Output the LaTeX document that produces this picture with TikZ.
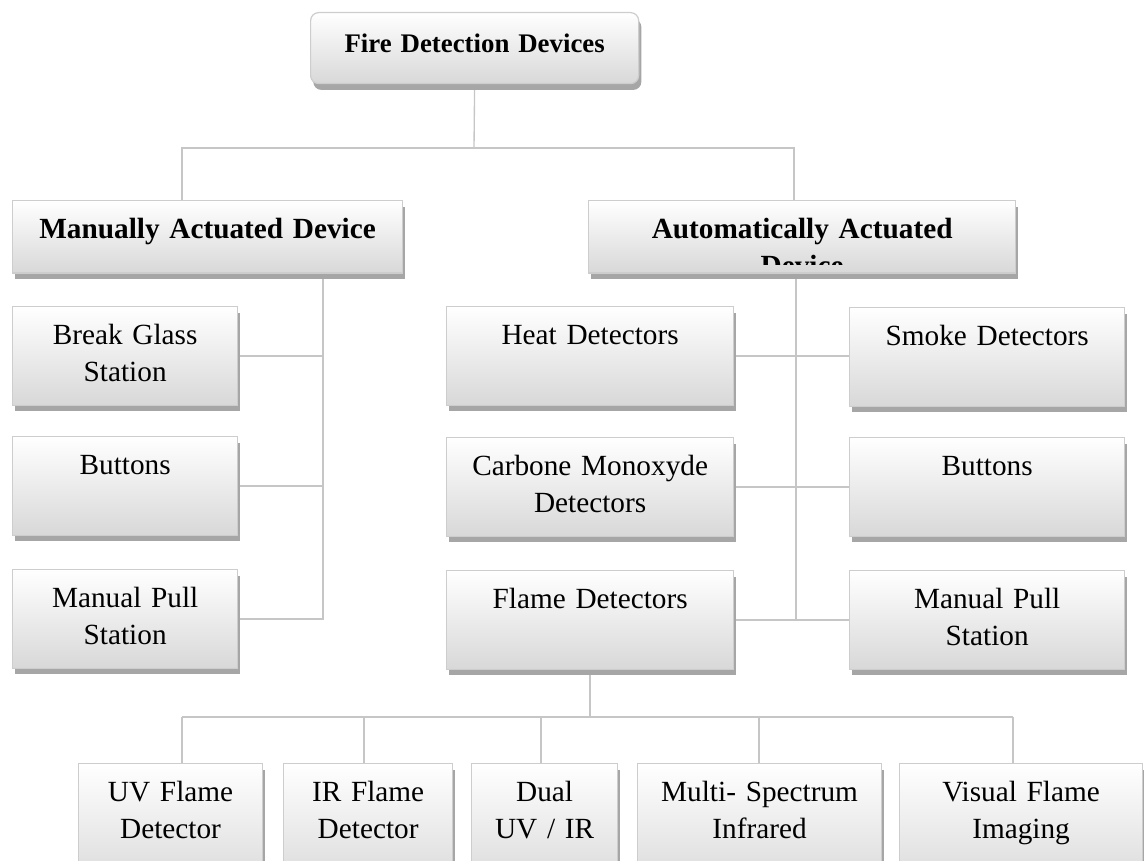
\documentclass[tikz,border=0pt]{standalone}
\usepackage{fontspec}
\setmainfont{Liberation Serif}
\usetikzlibrary{shadows,backgrounds}
\definecolor{boxedge}{RGB}{205,205,205}
\definecolor{boxfoot}{RGB}{216,216,216}
\definecolor{boxshade}{RGB}{166,166,166}
\definecolor{linkgray}{RGB}{198,198,198}
\begin{document}
\begin{tikzpicture}[x=0.41pt, y=-0.41pt,
  box/.style={draw=boxedge, line width=0.5pt, top color=white, bottom color=boxfoot,
    drop shadow={shadow xshift=1.1pt, shadow yshift=-2.6pt, fill=boxshade, opacity=1},
    anchor=north west, align=center, inner xsep=0pt, inner ysep=7.4pt,
    text height=8pt, text depth=17.6pt, font=\fontsize{12}{15.4}\selectfont},
  head/.style={box, text depth=6.9pt, font=\fontsize{12}{15.4}\selectfont\bfseries},
  leaf/.style={box, text depth=30pt},
  link/.style={draw=linkgray, line width=0.55pt}]
  % Seitenrahmen
  \useasboundingbox (0,0) rectangle (1144,861);
  \clip (0,0) rectangle (1144,861);

  % Wurzel
  \node (root) [box, rounded corners=3.3pt, text width=134.5pt, text height=9pt, text depth=5.3pt,
    font=\fontsize{11}{15.4}\selectfont\bfseries] at (310,12) {Fire Detection Devices};

  % die beiden Arten
  \node (manual) [head, text width=159.9pt] at (12,200) {Manually Actuated Device};
  \node (automatic) [head, text width=175.1pt] at (588,200) {Automatically Actuated};
  \begin{scope}
    \clip (automatic.north west) rectangle ([yshift=3.6pt]automatic.south east);
    \node (autotail) [anchor=base, yshift=-15.4pt, font=\fontsize{12}{15.4}\selectfont\bfseries]
      at (automatic.base) {Device};
  \end{scope}

  % manuelle Seite
  \node (glass) [box, text width=92.3pt] at (12,306) {Break Glass\\Station};
  \node (mbuttons) [box, text width=92.3pt] at (12,436) {Buttons};
  \node (mpull) [box, text width=92.3pt] at (12,569) {Manual Pull\\Station};

  % automatische Seite
  \node (heat) [box, text width=117.7pt] at (446,306) {Heat Detectors};
  \node (co) [box, text width=117.7pt] at (446,437) {Carbone Monoxyde\\Detectors};
  \node (flame) [box, text width=117.7pt] at (446,570) {Flame Detectors};
  \node (smoke) [box, text width=112.8pt] at (849,307) {Smoke Detectors};
  \node (abuttons) [box, text width=112.8pt] at (849,437) {Buttons};
  \node (apull) [box, text width=112.8pt] at (849,570) {Manual Pull\\Station};

  % Flammenmelder
  \node (uv) [leaf, text width=75.4pt] at (78,763) {UV Flame\\Detector};
  \node (ir) [leaf, text width=69.3pt] at (283,763) {IR Flame\\Detector};
  \node (dual) [leaf, text width=59.9pt] at (471,763) {Dual\\UV / IR};
  \node (multi) [leaf, text width=100pt] at (637,763) {Multi- Spectrum\\Infrared};
  \node (visual) [leaf, text width=99.6pt] at (899,763) {Visual Flame\\Imaging};

  % Verbindungen
  \begin{scope}[on background layer]
    \coordinate (split) at (474,148);
    \coordinate (mdrop) at (182,148);
    \coordinate (adrop) at (794,148);
    \draw[link] (root.south) -- (split);
    \draw[link] (manual.north -| mdrop) -- (mdrop) -- (adrop) -- (automatic.north -| adrop);

    \coordinate (mtrunk) at (323,620);
    \draw[link] (manual.south -| mtrunk) -- (mtrunk |- mpull.east) -- (mpull.east);
    \foreach \n in {glass, mbuttons}
      \draw[link] (\n.east) -- (\n.east -| mtrunk);

    \coordinate (atrunk) at (796,620);
    \draw[link] (automatic.south -| atrunk) -- (atrunk |- flame.east);
    \draw[link] (heat.east) -- (heat.east -| smoke.west);
    \draw[link] (co.east) -- (co.east -| abuttons.west);
    \draw[link] (flame.east) -- (flame.east -| apull.west);

    \coordinate (d1) at (182,717);
    \coordinate (d2) at (364,717);
    \coordinate (d3) at (541,717);
    \coordinate (d4) at (759,717);
    \coordinate (d5) at (1013,717);
    \draw[link] (flame.south) -- (flame.south |- d1);
    \draw[link] (d1) -- (d5);
    \draw[link] (d1) -- (d1 |- uv.north);
    \draw[link] (d2) -- (d2 |- ir.north);
    \draw[link] (d3) -- (d3 |- dual.north);
    \draw[link] (d4) -- (d4 |- multi.north);
    \draw[link] (d5) -- (d5 |- visual.north);
  \end{scope}
\end{tikzpicture}
\end{document}
